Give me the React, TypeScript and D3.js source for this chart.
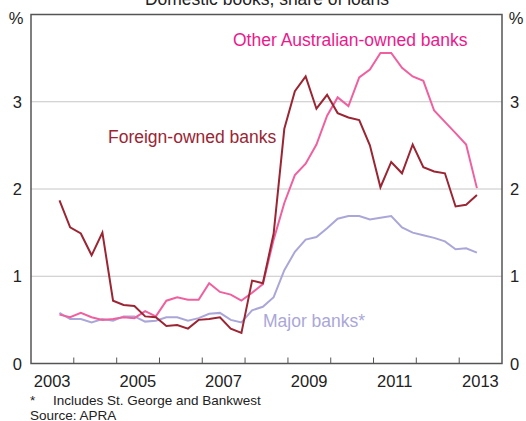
import { line, scaleLinear, scaleTime, timeMonth, timeYear } from "d3";

const foreignOwned = [
  1.87, 1.56, 1.49, 1.24, 1.5, 0.72, 0.67, 0.66, 0.54, 0.53,
  0.43, 0.44, 0.4, 0.5, 0.51, 0.53, 0.4, 0.35, 0.95, 0.92,
  1.49, 2.69, 3.12, 3.29, 2.92, 3.08, 2.87, 2.82, 2.79, 2.5,
  2.02, 2.31, 2.18, 2.51, 2.25, 2.2, 2.18, 1.8, 1.82, 1.93
];

const otherAustralian = [
  0.56, 0.53, 0.58, 0.53, 0.5, 0.51, 0.53, 0.52, 0.6, 0.54,
  0.72, 0.76, 0.73, 0.73, 0.92, 0.82, 0.79, 0.72, 0.81, 0.91,
  1.42, 1.84, 2.16, 2.29, 2.51, 2.84, 3.05, 2.95, 3.28, 3.37,
  3.56, 3.56, 3.39, 3.29, 3.24, 2.9, 2.77, 2.64, 2.51, 2.01
];

const majorBanks = [
  0.58, 0.51, 0.51, 0.47, 0.51, 0.49, 0.54, 0.54, 0.48, 0.49,
  0.53, 0.53, 0.49, 0.52, 0.57, 0.58, 0.5, 0.47, 0.61, 0.65,
  0.76, 1.07, 1.28, 1.42, 1.45, 1.55, 1.66, 1.69, 1.69, 1.65,
  1.67, 1.69, 1.56, 1.5, 1.47, 1.44, 1.4, 1.31, 1.32, 1.27
];

// quarterly observations, Sep 2003 to Jun 2013
const quarters = timeMonth.range(new Date(2003, 8, 1), new Date(2013, 6, 1), 3);

const yTicks = [0, 1, 2, 3];
const yearLabels = [2003, 2005, 2007, 2009, 2011, 2013];

const colors = {
  foreign: "#9b2533",
  other: "#f0609f",
  otherText: "#ec198c",
  major: "#aaa7d8",
  frame: "#555555",
  grid: "#c6c6c6",
  text: "#222222"
};

const plot = { left: 31, right: 502, top: 14.5, bottom: 363.5 };

export default function App() {
  const x = scaleTime()
    .domain([new Date(2003, 0, 1), new Date(2014, 0, 1)])
    .range([plot.left, plot.right]);
  const y = scaleLinear().domain([0, 4]).range([plot.bottom, plot.top]);

  const path = (values: number[]) =>
    line<number>()
      .x((_, i) => x(quarters[i]))
      .y((d) => y(d))(values) ?? "";

  const yearTicks = timeYear.range(new Date(2004, 0, 1), new Date(2014, 0, 1));
  const font = "Liberation Sans, Arial, sans-serif";

  return (
    <svg
      width={526}
      height={421}
      style={{ position: "absolute", left: 0, top: 0, fontFamily: font }}
    >
      <rect width={526} height={421} fill="#ffffff" />
      <text x={267} y={5} textAnchor="middle" fontSize={17.5} fill={colors.text}>
        Domestic books, share of loans
      </text>

      {yTicks
        .filter((t) => t > 0)
        .map((t) => (
          <line
            key={t}
            x1={plot.left}
            x2={plot.right}
            y1={y(t)}
            y2={y(t)}
            stroke={colors.grid}
            strokeWidth={1}
          />
        ))}

      {yearTicks.map((d) => (
        <line
          key={d.getFullYear()}
          x1={x(d)}
          x2={x(d)}
          y1={plot.bottom}
          y2={plot.bottom - 6}
          stroke={colors.frame}
          strokeWidth={1}
        />
      ))}

      <path d={path(majorBanks)} fill="none" stroke={colors.major} strokeWidth={2} />
      <path d={path(otherAustralian)} fill="none" stroke={colors.other} strokeWidth={2} />
      <path d={path(foreignOwned)} fill="none" stroke={colors.foreign} strokeWidth={2} />

      <rect
        x={plot.left}
        y={plot.top}
        width={plot.right - plot.left}
        height={plot.bottom - plot.top}
        fill="none"
        stroke={colors.frame}
        strokeWidth={1.5}
      />

      {yTicks.map((t) => (
        <g key={t} fontSize={16.5} fill={colors.text}>
          <text x={22} y={y(t)} textAnchor="end" dominantBaseline="central">
            {t}
          </text>
          <text x={510} y={y(t)} textAnchor="start" dominantBaseline="central">
            {t}
          </text>
        </g>
      ))}
      <text x={16} y={y(4) + 9} textAnchor="middle" fontSize={16.5} fill={colors.text}>
        %
      </text>
      <text x={516} y={y(4) + 9} textAnchor="middle" fontSize={16.5} fill={colors.text}>
        %
      </text>

      {yearLabels.map((yr) => (
        <text
          key={yr}
          x={x(new Date(yr, 6, 1))}
          y={387}
          textAnchor="middle"
          fontSize={16.5}
          fill={colors.text}
        >
          {yr}
        </text>
      ))}

      <text x={233} y={46} fontSize={17.5} fill={colors.otherText}>
        Other Australian-owned banks
      </text>
      <text x={108} y={143} fontSize={17.5} fill={colors.foreign}>
        Foreign-owned banks
      </text>
      <text x={263} y={327} fontSize={17.5} fill={colors.major}>
        Major banks*
      </text>

      <text x={30} y={405} fontSize={13.5} fill={colors.text}>
        *
      </text>
      <text x={53} y={405} fontSize={13.5} fill={colors.text}>
        Includes St. George and Bankwest
      </text>
      <text x={30} y={419.5} fontSize={13.5} fill={colors.text}>
        Source: APRA
      </text>
    </svg>
  );
}
